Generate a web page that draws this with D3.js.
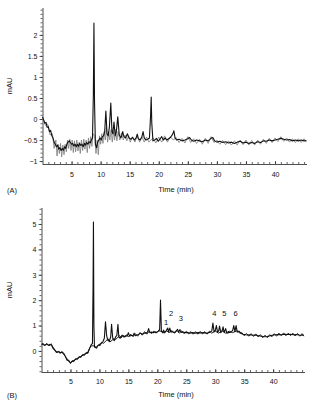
<!DOCTYPE html>
<html>
<head>
<meta charset="utf-8">
<script src="https://cdn.jsdelivr.net/npm/d3@7"></script>
<style>
  body { margin: 0; background: #fff; }
  svg { display: block; font-family: "Liberation Sans", Arial, sans-serif; }
  .tick text { font-size: 7px; }
</style>
</head>
<body>
<script>
// chromatogram A: [time (min), mAU]
const traceA = [
  [0,0.05],[0.2,-0.02],[0.4,-0.1],[0.6,-0.08],[0.8,-0.2],[1.0,-0.18],[1.2,-0.3],[1.4,-0.27],
  [1.6,-0.4],[1.8,-0.45],[2.0,-0.55],[2.2,-0.6],[2.4,-0.66],[2.6,-0.62],[2.8,-0.72],[3.0,-0.68],
  [3.2,-0.75],[3.4,-0.7],[3.6,-0.74],[3.8,-0.66],[4.0,-0.7],[4.2,-0.6],[4.4,-0.55],[4.6,-0.52],
  [4.8,-0.56],[5.0,-0.6],[5.2,-0.58],[5.4,-0.64],[5.6,-0.6],[5.8,-0.66],[6.0,-0.6],[6.2,-0.65],
  [6.4,-0.58],[6.6,-0.63],[6.8,-0.6],[7.0,-0.66],[7.2,-0.58],[7.4,-0.62],[7.6,-0.56],[7.8,-0.6],
  [8.0,-0.54],[8.2,-0.57],[8.4,-0.5],[8.6,-0.45],[8.75,0.6],[8.85,2.28],[8.95,0.4],[9.1,-0.6],
  [9.3,-0.68],[9.5,-0.55],[9.7,-0.5],[9.9,-0.45],[10.1,-0.5],[10.3,-0.42],[10.5,-0.4],[10.7,-0.3],
  [10.9,0.19],[11.1,-0.35],[11.3,-0.4],[11.5,-0.2],[11.75,0.38],[11.95,-0.3],[12.1,-0.35],[12.3,-0.07],
  [12.5,-0.4],[12.7,-0.3],[12.95,0.05],[13.2,-0.38],[13.5,-0.45],[13.8,-0.3],[14.0,-0.42],[14.3,-0.45],
  [14.6,-0.35],[14.9,-0.45],[15.2,-0.48],[15.5,-0.44],[15.8,-0.5],[16.1,-0.45],[16.3,-0.36],[16.5,-0.47],
  [16.8,-0.5],[17.1,-0.42],[17.3,-0.3],[17.5,-0.45],[17.8,-0.5],[18.1,-0.48],[18.4,-0.45],[18.6,0.1],
  [18.7,0.52],[18.8,-0.1],[19.0,-0.52],[19.3,-0.5],[19.6,-0.46],[19.9,-0.53],[20.2,-0.48],[20.5,-0.42],
  [20.8,-0.5],[21.1,-0.45],[21.4,-0.5],[21.7,-0.47],[22.0,-0.44],[22.4,-0.36],[22.6,-0.28],[22.8,-0.45],
  [23.1,-0.5],[23.5,-0.48],[24.0,-0.52],[24.5,-0.5],[25.0,-0.47],[25.3,-0.44],[25.6,-0.5],[26.0,-0.53],
  [26.5,-0.5],[27.0,-0.52],[27.5,-0.54],[28.0,-0.5],[28.5,-0.52],[29.0,-0.46],[29.3,-0.44],[29.6,-0.52],
  [30.0,-0.55],[30.5,-0.53],[31.0,-0.56],[31.5,-0.54],[32.0,-0.57],[32.5,-0.55],[33.0,-0.58],[33.5,-0.55],
  [34.0,-0.53],[34.5,-0.57],[35.0,-0.55],[35.5,-0.58],[36.0,-0.56],[36.5,-0.58],[37.0,-0.54],[37.5,-0.56],
  [38.0,-0.52],[38.5,-0.53],[39.0,-0.5],[39.5,-0.52],[40.0,-0.5],[40.5,-0.48],[41.0,-0.46],[41.5,-0.48],
  [42.0,-0.5],[42.5,-0.49],[43.0,-0.52],[43.5,-0.5],[44.0,-0.52],[44.5,-0.5],[45.0,-0.52],[45.4,-0.51]
];

// grey noise trace overlaid on A
const noiseA = [
  [0.1,0.0],[0.5,-0.15],[0.9,-0.12],[1.3,-0.38],[1.7,-0.35],[2.0,-0.7],[2.3,-0.5],[2.5,-0.88],
  [2.7,-0.6],[2.9,-0.82],[3.1,-0.58],[3.3,-0.9],[3.5,-0.62],[3.7,-0.85],[3.9,-0.6],[4.1,-0.78],
  [4.3,-0.5],[4.5,-0.7],[4.7,-0.48],[4.9,-0.75],[5.1,-0.5],[5.3,-0.8],[5.5,-0.52],[5.7,-0.78],
  [5.9,-0.5],[6.1,-0.76],[6.3,-0.55],[6.5,-0.82],[6.7,-0.5],[6.9,-0.75],[7.1,-0.48],[7.3,-0.72],
  [7.5,-0.5],[7.7,-0.8],[7.9,-0.45],[8.1,-0.7],[8.3,-0.42],[8.5,-0.65],[8.7,-0.35],[9.0,-0.4],
  [9.2,-0.82],[9.4,-0.5],[9.6,-0.85],[9.8,-0.4],[10.0,-0.6],[10.2,-0.35],[10.4,-0.58],[10.6,-0.3],
  [10.8,-0.5],[11.0,-0.2],[11.2,-0.55],[11.4,-0.3],[11.6,-0.5],[11.8,-0.25],[12.0,-0.55],[12.2,-0.3],
  [12.4,-0.5],[12.6,-0.25],[12.8,-0.52],[13.0,-0.3],[13.3,-0.5],[13.6,-0.33],[13.9,-0.5],[14.2,-0.38],
  [14.5,-0.52],[14.8,-0.4],[15.1,-0.55],[15.5,-0.42],[15.9,-0.55],[16.3,-0.4],[16.7,-0.55],[17.1,-0.42],
  [17.5,-0.55],[17.9,-0.43],[18.3,-0.55],[19.0,-0.45],[19.5,-0.57],[20.0,-0.43],[20.5,-0.55],[21.0,-0.4],
  [21.5,-0.55],[22.0,-0.42],[22.5,-0.5],[23.0,-0.44],[23.5,-0.56],[24.0,-0.46],[24.5,-0.57],[25.0,-0.42],
  [25.5,-0.56],[26.0,-0.47],[26.5,-0.58],[27.0,-0.48],[27.5,-0.6],[28.0,-0.46],[28.5,-0.58],[29.0,-0.42],
  [29.5,-0.56],[30.0,-0.5],[30.5,-0.6],[31.0,-0.51],[31.5,-0.61],[32.0,-0.52],[32.5,-0.62],[33.0,-0.52],
  [33.5,-0.62],[34.0,-0.5],[34.5,-0.61],[35.0,-0.5],[35.5,-0.62],[36.0,-0.51],[36.5,-0.62],[37.0,-0.5],
  [37.5,-0.6],[38.0,-0.48],[38.5,-0.58],[39.0,-0.46],[39.5,-0.56],[40.0,-0.45],[40.5,-0.54],[41.0,-0.42],
  [41.5,-0.53],[42.0,-0.45],[42.5,-0.55],[43.0,-0.47],[43.5,-0.56],[44.0,-0.47],[44.5,-0.56],[45.0,-0.47],
  [45.4,-0.55]
];

// chromatogram B
const traceB = [
  [0,0.24],[0.3,0.28],[0.6,0.22],[0.9,0.27],[1.2,0.22],[1.5,0.26],[1.8,0.2],[2.1,0.1],
  [2.4,0.0],[2.7,-0.05],[3.0,-0.03],[3.3,-0.07],[3.6,-0.05],[3.9,-0.12],[4.2,-0.25],[4.5,-0.35],
  [4.8,-0.42],[5.0,-0.46],[5.3,-0.42],[5.6,-0.38],[5.9,-0.33],[6.2,-0.3],[6.5,-0.25],[6.8,-0.22],
  [7.1,-0.17],[7.4,-0.13],[7.7,-0.1],[8.0,-0.05],[8.2,0.05],[8.4,0.15],[8.6,0.25],[8.8,0.3],
  [8.9,2.5],[8.97,5.08],[9.05,1.0],[9.15,0.15],[9.4,0.12],[9.7,0.2],[10.0,0.25],[10.3,0.3],
  [10.6,0.36],[10.85,0.5],[11.05,1.15],[11.25,0.6],[11.45,0.42],[11.7,0.38],[11.95,0.55],[12.1,1.05],
  [12.3,0.5],[12.55,0.4],[12.8,0.55],[13.0,0.6],[13.2,1.05],[13.35,0.55],[13.6,0.5],[13.9,0.62],
  [14.2,0.55],[14.5,0.6],[14.8,0.58],[15.0,0.72],[15.2,0.58],[15.5,0.62],[15.8,0.6],[16.0,0.7],
  [16.2,0.6],[16.5,0.63],[16.8,0.65],[17.1,0.7],[17.4,0.66],[17.7,0.7],[18.0,0.7],[18.3,0.74],
  [18.5,0.88],[18.7,0.72],[19.0,0.74],[19.3,0.72],[19.6,0.75],[19.9,0.73],[20.2,0.78],[20.4,0.85],
  [20.55,2.0],[20.7,0.8],[20.9,0.72],[21.1,0.82],[21.25,0.72],[21.5,0.78],[21.8,0.9],[21.95,0.75],
  [22.15,0.9],[22.35,0.74],[22.6,0.76],[22.9,0.72],[23.2,0.78],[23.5,0.85],[23.7,0.74],[23.9,0.84],
  [24.1,0.73],[24.4,0.75],[24.8,0.72],[25.2,0.73],[25.6,0.7],[26.0,0.72],[26.5,0.7],[27.0,0.72],
  [27.5,0.71],[28.0,0.72],[28.5,0.7],[29.0,0.73],[29.4,0.78],[29.6,1.1],[29.8,0.75],[30.0,0.8],
  [30.2,1.0],[30.4,0.73],[30.6,0.8],[30.75,0.98],[30.95,0.72],[31.15,0.76],[31.35,0.95],[31.55,0.72],
  [31.8,0.88],[32.0,0.7],[32.3,0.72],[32.7,0.74],[33.0,0.8],[33.2,1.0],[33.4,0.76],[33.6,1.0],
  [33.8,0.74],[34.1,0.78],[34.4,0.7],[34.8,0.66],[35.2,0.64],[35.6,0.63],[36.0,0.64],[36.5,0.62],
  [37.0,0.63],[37.5,0.6],[38.0,0.58],[38.5,0.56],[39.0,0.57],[39.5,0.6],[40.0,0.63],[40.5,0.64],
  [41.0,0.65],[41.5,0.64],[42.0,0.66],[42.5,0.65],[43.0,0.66],[43.5,0.64],[44.0,0.65],[44.5,0.63],
  [45.0,0.62],[45.3,0.63]
];

// baseline noise for B (gives the trace its thickness)
const noiseB = [
  [0.1,0.3],[0.5,0.2],[0.9,0.3],[1.3,0.2],[1.7,0.28],[2.0,0.08],[2.3,0.04],[2.6,-0.08],
  [2.9,0.0],[3.2,-0.1],[3.5,-0.02],[3.8,-0.14],[4.1,-0.2],[4.4,-0.38],[4.7,-0.36],[5.0,-0.5],
  [5.3,-0.38],[5.6,-0.42],[5.9,-0.3],[6.2,-0.34],[6.5,-0.22],[6.8,-0.26],[7.1,-0.14],[7.4,-0.18],
  [7.7,-0.06],[8.0,-0.1],[8.3,0.1],[8.6,0.2],[9.2,0.2],[9.5,0.1],[9.8,0.24],[10.1,0.2],
  [10.4,0.34],[10.7,0.3],[11.5,0.48],[11.8,0.35],[12.5,0.48],[12.8,0.45],[13.5,0.6],[13.8,0.52],
  [14.1,0.62],[14.4,0.54],[14.7,0.64],[15.0,0.56],[15.4,0.66],[15.8,0.56],[16.2,0.68],[16.6,0.58],
  [17.0,0.72],[17.4,0.62],[17.8,0.76],[18.2,0.66],[18.6,0.78],[19.0,0.68],[19.4,0.78],[19.8,0.7],
  [20.2,0.8],[20.8,0.76],[21.2,0.7],[21.6,0.8],[22.0,0.72],[22.5,0.8],[23.0,0.7],[23.4,0.8],
  [23.8,0.7],[24.2,0.79],[24.6,0.68],[25.0,0.77],[25.4,0.67],[25.8,0.76],[26.2,0.66],[26.6,0.76],
  [27.0,0.66],[27.4,0.77],[27.8,0.67],[28.2,0.76],[28.6,0.66],[29.0,0.78],[29.4,0.7],[30.0,0.78],
  [30.6,0.7],[31.2,0.8],[31.8,0.7],[32.4,0.78],[33.0,0.72],[33.8,0.8],[34.2,0.7],[34.6,0.72],
  [35.0,0.6],[35.4,0.69],[35.8,0.58],[36.2,0.68],[36.6,0.57],[37.0,0.67],[37.4,0.55],[37.8,0.64],
  [38.2,0.52],[38.6,0.62],[39.0,0.52],[39.4,0.64],[39.8,0.56],[40.2,0.68],[40.6,0.58],[41.0,0.7],
  [41.4,0.6],[41.8,0.71],[42.2,0.6],[42.6,0.7],[43.0,0.6],[43.4,0.7],[43.8,0.59],[44.2,0.69],
  [44.6,0.58],[45.0,0.68],[45.3,0.58]
];

// numbered peaks in B: [label, time, mAU of label baseline]
const peakLabels = [
  ["1", 21.5, 1.04], ["2", 22.36, 1.36], ["3", 24.08, 1.16],
  ["4", 29.83, 1.36], ["5", 31.55, 1.36], ["6", 33.5, 1.36]
];

const timeTicks = [5, 10, 15, 20, 25, 30, 35, 40];
const yTicksA = [-1, -0.5, 0, 0.5, 1, 1.5, 2];
const yTicksB = [0, 1, 2, 3, 4, 5];

const W = 313, H = 402;
const svg = d3.select("body").append("svg")
    .attr("width", W)
    .attr("height", H);

function panel(p) {
    const x = d3.scaleLinear().domain([0, 45.5]).range([p.left, p.right]);
    const y = d3.scaleLinear().domain(p.yDomain).range([p.bottom, p.top]);

    const g = svg.append("g");

    // minor ticks first, majors on top
    g.append("g")
        .attr("transform", `translate(0,${p.bottom})`)
        .call(d3.axisBottom(x).tickValues(d3.range(1, 46)).tickSize(-2).tickFormat(""))
        .call(a => a.select(".domain").remove());
    g.append("g")
        .attr("transform", `translate(0,${p.bottom})`)
        .call(d3.axisBottom(x).tickValues(timeTicks).tickSize(-3).tickPadding(p.xPad)
            .tickFormat(d3.format("d")))
        .call(a => a.select(".domain").attr("d", `M${p.left},0.5H${p.right}`));

    g.append("g")
        .attr("transform", `translate(${p.left},0)`)
        .call(d3.axisLeft(y).tickValues(p.yMinor).tickSize(2).tickFormat(""))
        .call(a => a.select(".domain").remove());
    g.append("g")
        .attr("transform", `translate(${p.left},0)`)
        .call(d3.axisLeft(y).tickValues(p.yTicks).tickSize(3).tickPadding(2)
            .tickFormat(d => d < 0 ? "\u2212" + Math.abs(d) : d))
        .call(a => a.select(".domain").attr("d", `M0.5,${p.top}V${p.bottom}`));

    g.selectAll(".tick line").attr("stroke", "#222").attr("stroke-width", 0.7);
    g.selectAll(".domain").attr("stroke", "#222").attr("stroke-width", 0.8);
    g.selectAll(".tick text").attr("fill", "#111");

    const line = d3.line().x(d => x(d[0])).y(d => y(d[1]));

    g.append("path").datum(p.noise)
        .attr("fill", "none")
        .attr("stroke", p.noiseColor)
        .attr("stroke-width", p.noiseWidth)
        .attr("d", line);
    g.append("path").datum(p.trace)
        .attr("fill", "none")
        .attr("stroke", "#111")
        .attr("stroke-width", p.traceWidth)
        .attr("stroke-linejoin", "round")
        .attr("d", line);

    g.append("text")
        .attr("transform", `translate(${p.labelX},${(p.top + p.bottom) / 2}) rotate(-90)`)
        .attr("text-anchor", "middle")
        .attr("font-size", 7.5)
        .attr("fill", "#111")
        .text("mAU");

    g.append("text")
        .attr("x", 176).attr("y", p.bottom + p.titleOff)
        .attr("text-anchor", "middle")
        .attr("font-size", 7.5)
        .attr("fill", "#111")
        .text("Time (min)");

    g.append("text")
        .attr("x", 7).attr("y", p.bottom + p.titleOff + 1)
        .attr("font-size", 7.5)
        .attr("fill", "#111")
        .text(p.tag);

    return {x, y, g};
}

panel({
    left: 42.5, right: 307, top: 8, bottom: 164,
    yDomain: [-1.07, 2.64], yTicks: yTicksA, yMinor: d3.range(-10, 27).map(d => d / 10),
    trace: traceA, noise: noiseA, noiseColor: "#7a7a7a", noiseWidth: 0.8, traceWidth: 1.1,
    labelX: 12, tag: "(A)", xPad: 8, titleOff: 28
});

const b = panel({
    left: 41.5, right: 305, top: 208, bottom: 372,
    yDomain: [-0.83, 5.63], yTicks: yTicksB, yMinor: d3.range(-4, 29).map(d => d / 5),
    trace: traceB, noise: noiseB, noiseColor: "#222", noiseWidth: 1, traceWidth: 1.1,
    labelX: 12, tag: "(B)", xPad: 7, titleOff: 25
});

b.g.selectAll(".peak")
    .data(peakLabels)
    .join("text")
    .attr("class", "peak")
    .attr("x", d => b.x(d[1]))
    .attr("y", d => b.y(d[2]))
    .attr("text-anchor", "middle")
    .attr("font-size", 7.5)
    .attr("fill", "#111")
    .text(d => d[0]);
</script>
</body>
</html>
